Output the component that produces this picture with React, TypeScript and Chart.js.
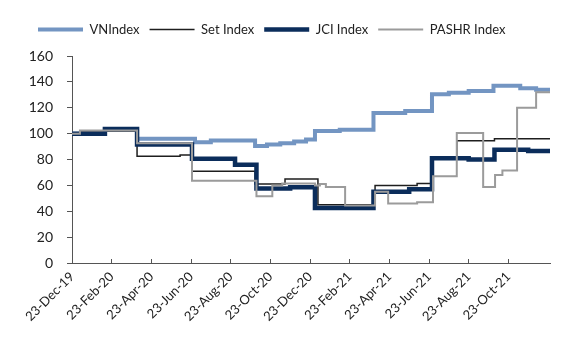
import React, { useEffect, useRef } from "react";
import { Chart, registerables } from "chart.js";

Chart.register(...registerables);

// x = months since 23-Dec-19 (each point starts a level that holds until the next point)
const tickLabels = [
  "23-Dec-19", "23-Feb-20", "23-Apr-20", "23-Jun-20", "23-Aug-20", "23-Oct-20",
  "23-Dec-20", "23-Feb-21", "23-Apr-21", "23-Jun-21", "23-Aug-21", "23-Oct-21",
];

const seriesNames = ["VNIndex", "Set Index", "JCI Index", "PASHR Index"];

const vnMonths = [0, 0.5, 1.66, 3.28, 6.2, 7.0, 9.23, 9.83, 10.5, 11.2, 11.8, 12.25, 13.5, 15.2, 16.8, 18.15, 19.0, 20.0, 21.25, 22.6, 23.4, 24.1];
const vnValues = [100, 101, 103, 96, 93.3, 94.6, 90.5, 91.5, 92.5, 94, 95.5, 102, 103, 116, 117.5, 130.5, 131.5, 133, 137, 135, 134, 133];

const setMonths = [0, 0.4, 3.28, 5.45, 6.05, 9.23, 10.74, 12.4, 15.28, 17.4, 18.2, 19.4, 21.3, 24.1];
const setValues = [100, 102, 82.5, 83.5, 71, 61, 65, 45, 60, 61.5, 81, 94.5, 96, 96];

const jciMonths = [0, 1.66, 3.28, 6.05, 8.22, 9.3, 11.0, 12.25, 15.2, 17.0, 18.15, 20.0, 21.3, 23.0, 24.1];
const jciValues = [100, 103.5, 91.5, 80.5, 76, 57.5, 58.5, 42.5, 55, 57, 81, 80, 87.5, 86.5, 86];

const pashrMonths = [0, 0.4, 3.28, 6.05, 9.3, 10.1, 10.6, 12.25, 12.5, 12.8, 13.77, 15.28, 15.94, 17.4, 18.2, 19.4, 20.73, 21.33, 21.7, 22.44, 23.4, 24.1];
const pashrValues = [100, 102.5, 92.5, 63.5, 51.5, 60, 61.5, 60, 61, 58.7, 44.5, 55, 46, 47, 67, 100.5, 58.7, 68, 71.5, 120, 132, 132];

const toPoints = (xs: number[], ys: number[]) => xs.map((x, i) => ({ x, y: ys[i] }));

export default function App() {
  const ref = useRef<HTMLCanvasElement | null>(null);
  useEffect(() => {
    document.body.style.margin = "0";
    if (!ref.current) return;
    const font = "Lato, 'Open Sans', sans-serif";
    const chart = new Chart(ref.current, {
      type: "line",
      data: {
        datasets: [
          { label: seriesNames[0], data: toPoints(vnMonths, vnValues), borderColor: "#7395C2", backgroundColor: "#7395C2", borderWidth: 4, order: 3 },
          { label: seriesNames[1], data: toPoints(setMonths, setValues), borderColor: "#1E1E1E", backgroundColor: "#1E1E1E", borderWidth: 1.5, order: 2 },
          { label: seriesNames[2], data: toPoints(jciMonths, jciValues), borderColor: "#0B2D5B", backgroundColor: "#0B2D5B", borderWidth: 4.5, order: 1 },
          { label: seriesNames[3], data: toPoints(pashrMonths, pashrValues), borderColor: "#9B9B9B", backgroundColor: "#9B9B9B", borderWidth: 2, order: 0 },
        ].map((d) => ({ ...d, stepped: "before" as const, pointRadius: 0, fill: false, tension: 0 })),
      },
      options: {
        responsive: false,
        animation: false,
        devicePixelRatio: 1,
        layout: { padding: { left: 28, right: 20, top: 13, bottom: 0 } },
        plugins: {
          tooltip: { enabled: false },
          legend: {
            position: "top",
            align: "start",
            labels: {
              usePointStyle: true,
              pointStyle: "line",
              pointStyleWidth: 45,
              boxWidth: 45,
              padding: 10,
              color: "#222",
              font: { family: font, size: 13 },
              sort: (a: any, b: any) => a.datasetIndex - b.datasetIndex,
            },
          },
        },
        scales: {
          x: {
            type: "linear",
            min: 0,
            max: 24.1,
            afterBuildTicks: (scale: any) => {
              scale.ticks = tickLabels.map((_, i) => ({ value: i * 2 }));
            },
            afterFit: (scale: any) => {
              scale.height = 82;
            },
            grid: { drawOnChartArea: false, drawTicks: true, tickLength: -4, color: "#555" },
            border: { display: true, color: "#555", width: 1 },
            ticks: {
              autoSkip: false,
              maxRotation: 45,
              minRotation: 45,
              padding: 10,
              color: "#222",
              font: { family: font, size: 13 },
              callback: (v: any) => tickLabels[Math.round(Number(v) / 2)] ?? "",
            },
          },
          y: {
            min: 0,
            max: 160,
            afterFit: (scale: any) => {
              scale.width = 44;
            },
            grid: { drawOnChartArea: false, drawTicks: true, tickLength: 5, color: "#555" },
            border: { display: true, color: "#555", width: 1 },
            ticks: { stepSize: 20, padding: 14, color: "#222", font: { family: font, size: 14 } },
          },
        },
      },
    });
    const lg: any = (chart as any).legend;
    if (lg) {
      const origFit = lg.fit.bind(lg);
      lg.fit = () => {
        origFit();
        lg.height += 10;
      };
      chart.update();
    }
    return () => chart.destroy();
  }, []);
  return (
    <div style={{ width: 570, height: 345 }}>
      <canvas ref={ref} width={570} height={345} />
    </div>
  );
}
